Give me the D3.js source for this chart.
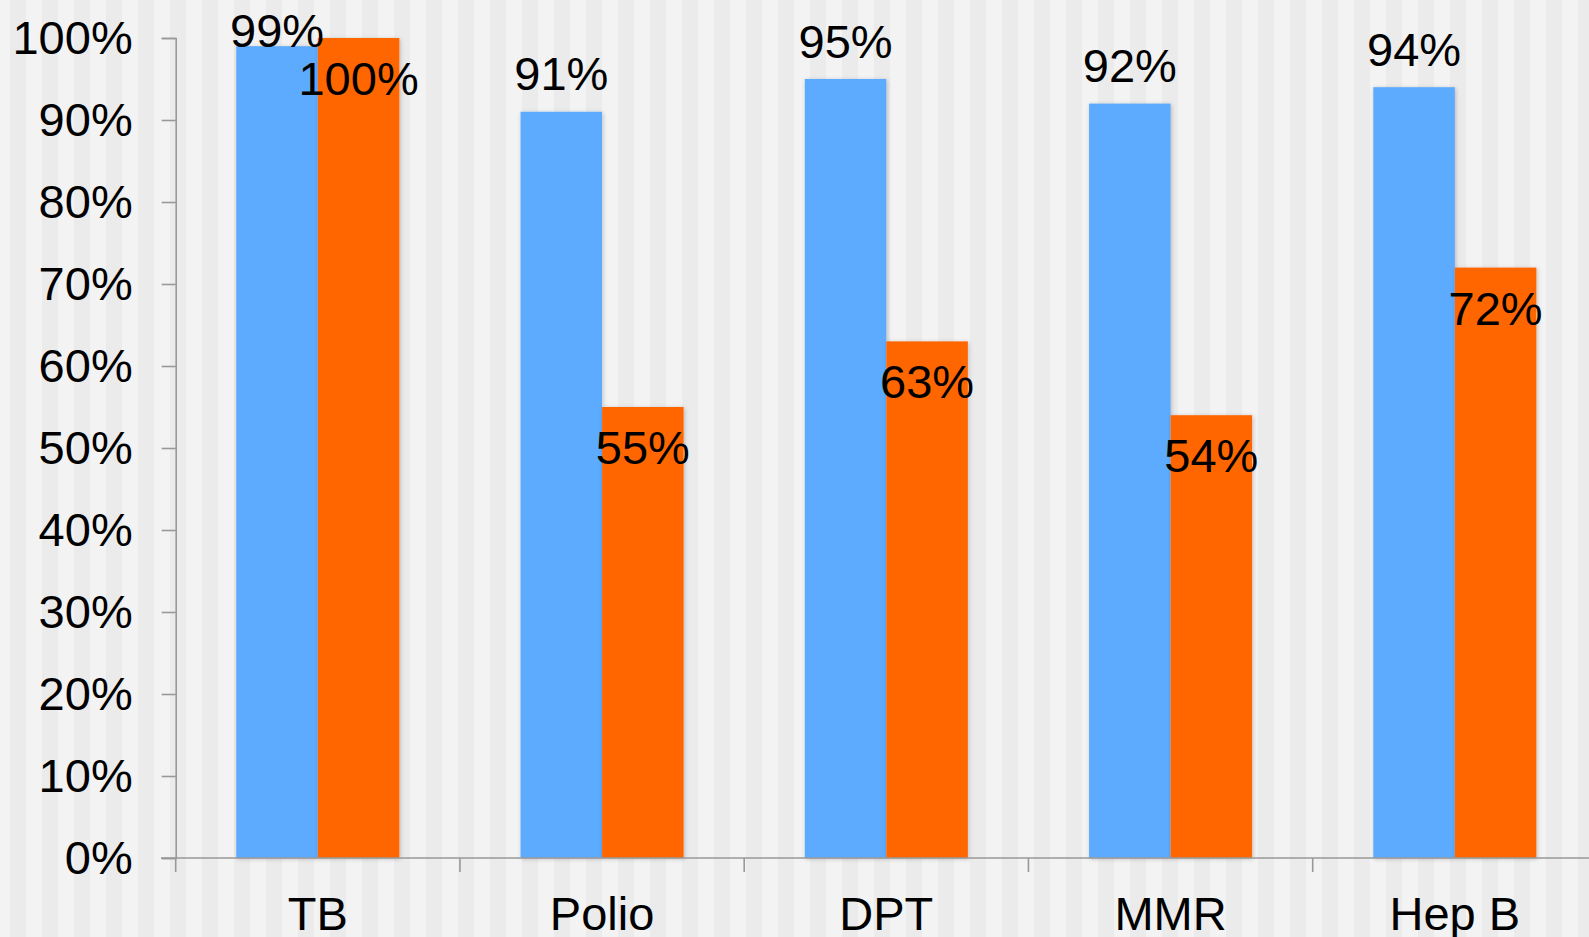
<!DOCTYPE html>
<html>
<head>
<meta charset="utf-8">
<script src="https://cdn.jsdelivr.net/npm/d3@7"></script>
<style>
  html, body { margin: 0; padding: 0; background: #f3f3f3; overflow: hidden; }
  svg { display: block; font-family: "Liberation Sans", Arial, sans-serif; }
</style>
</head>
<body>
<svg id="chart" width="1589" height="937"></svg>
<script>
// Immunisation coverage by vaccine (percent)
const categories = ["TB", "Polio", "DPT", "MMR", "Hep B"];
const seriesA = [99, 91, 95, 92, 94];
const seriesB = [100, 55, 63, 54, 72];
const yTickValues = [0, 10, 20, 30, 40, 50, 60, 70, 80, 90, 100];
const yTickLabels = ["0%", "10%", "20%", "30%", "40%", "50%", "60%", "70%", "80%", "90%", "100%"];

const W = 1589, H = 937;
const svg = d3.select("#chart");

// Striped backdrop
const stripeW = 16;
const stripes = d3.range(10, W, stripeW * 2);
svg.append("rect").attr("width", W).attr("height", H).attr("fill", "#f3f3f3");
svg.append("g").selectAll("rect").data(stripes).join("rect")
  .attr("x", d => d).attr("y", 0)
  .attr("width", stripeW).attr("height", H)
  .attr("fill", "#ebebeb");

// Soft shadow under bars
const defs = svg.append("defs");
const f = defs.append("filter").attr("id", "shadow")
  .attr("x", "-10%").attr("y", "-10%").attr("width", "130%").attr("height", "130%");
f.append("feDropShadow").attr("dx", 1).attr("dy", 1)
  .attr("stdDeviation", 2).attr("flood-color", "#000").attr("flood-opacity", 0.22);

const x0 = 175.7, bandW = 284.25;
const x = d3.scaleBand().domain(categories)
  .range([x0, x0 + bandW * categories.length]).paddingInner(0).paddingOuter(0);
const xs = d3.scaleBand().domain(["A", "B"])
  .range([60.6, bandW - 60.6]);
const y = d3.scaleLinear().domain([0, 100]).range([858, 38]);

const fontSize = 47;
const axisColor = "#999999";

// Y axis
const yAxis = d3.axisLeft(y).tickValues(yTickValues)
  .tickFormat((d, i) => yTickLabels[i]).tickSize(14).tickPadding(29);
const gy = svg.append("g").attr("transform", `translate(${x0},0)`).call(yAxis);
gy.select(".domain").attr("stroke", axisColor).attr("stroke-width", 1.6);
gy.selectAll(".tick line").attr("stroke", axisColor).attr("stroke-width", 1.6);
gy.selectAll(".tick text").attr("font-size", fontSize).attr("fill", "#000")
  .attr("font-family", "'Liberation Sans', Arial, sans-serif")
  .attr("dy", null).attr("y", 15).attr("x", -43);

// Bars
const groups = svg.append("g").selectAll("g").data(categories).join("g")
  .attr("transform", d => `translate(${x(d)},0)`);

groups.append("rect")
  .attr("x", xs("A")).attr("width", xs.bandwidth())
  .attr("y", (d, i) => y(seriesA[i]))
  .attr("height", (d, i) => y(0) - y(seriesA[i]))
  .attr("fill", "#5babff").attr("filter", "url(#shadow)");

groups.append("rect")
  .attr("x", xs("B")).attr("width", xs.bandwidth())
  .attr("y", (d, i) => y(seriesB[i]))
  .attr("height", (d, i) => y(0) - y(seriesB[i]))
  .attr("fill", "#ff6600").attr("filter", "url(#shadow)");

// X axis
const xAxis = d3.axisBottom(x).tickSize(0).tickFormat("");
const gx = svg.append("g").attr("transform", `translate(0,${y(0)})`).call(xAxis);
gx.select(".domain").remove();
svg.append("line").attr("x1", 161).attr("x2", W).attr("y1", y(0)).attr("y2", y(0))
  .attr("stroke", axisColor).attr("stroke-width", 1.6);
const bounds = categories.map(c => x(c));
svg.append("g").selectAll("line").data(bounds).join("line")
  .attr("x1", d => d).attr("x2", d => d)
  .attr("y1", y(0)).attr("y2", y(0) + 14)
  .attr("stroke", axisColor).attr("stroke-width", 1.6);

// Category labels
svg.append("g").selectAll("text").data(categories).join("text")
  .attr("x", d => x(d) + bandW / 2).attr("y", 930)
  .attr("text-anchor", "middle").attr("font-size", fontSize).attr("fill", "#000")
  .text(d => d);

// Value labels
groups.append("text")
  .attr("x", xs("A") + xs.bandwidth() / 2)
  .attr("y", (d, i) => Math.max(y(seriesA[i]) - 21.5, 47))
  .attr("text-anchor", "middle").attr("font-size", fontSize).attr("fill", "#000")
  .text((d, i) => seriesA[i] + "%");

groups.append("text")
  .attr("x", xs("B") + xs.bandwidth() / 2)
  .attr("y", (d, i) => y(seriesB[i]) + 57)
  .attr("text-anchor", "middle").attr("font-size", fontSize).attr("fill", "#000")
  .text((d, i) => seriesB[i] + "%");
</script>
</body>
</html>
